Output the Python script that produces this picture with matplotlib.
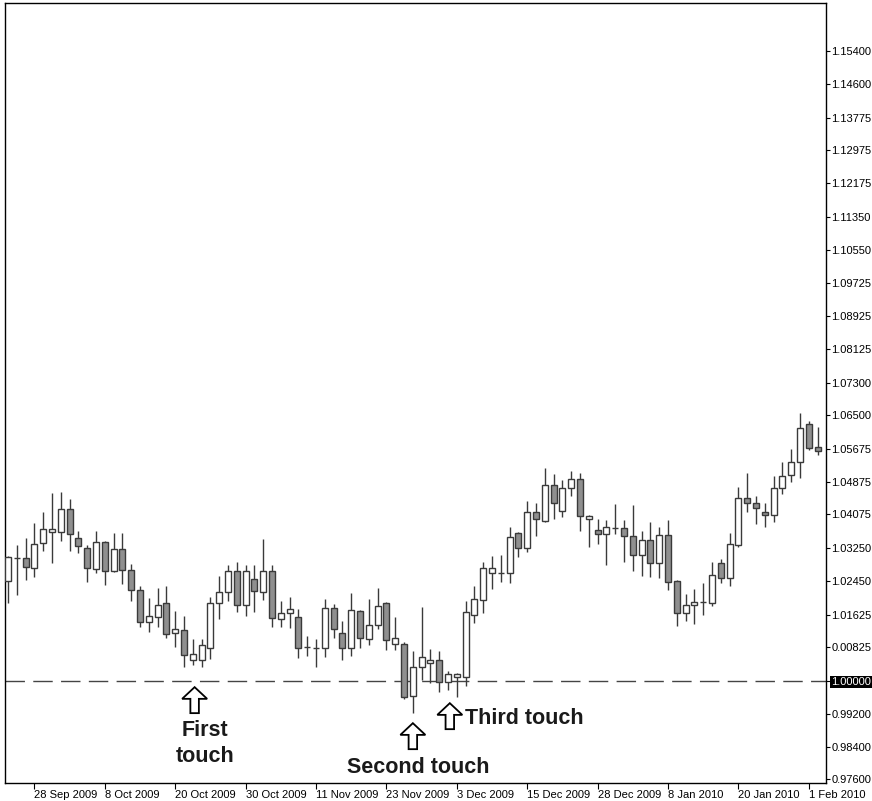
import matplotlib
matplotlib.use("Agg")
import matplotlib.pyplot as plt
import matplotlib.transforms as mtransforms
from matplotlib.patches import Polygon

plt.rcParams['font.family'] = ['Liberation Sans', 'DejaVu Sans']
plt.rcParams['lines.scale_dashes'] = False

# daily EUR/CHF-style candles
opens = [1.0244, 1.0301, 1.0301, 1.0276, 1.0337, 1.0364, 1.0364, 1.0421, 1.0350, 1.0325,
         1.0274, 1.0340, 1.0269, 1.0323, 1.0271, 1.0222, 1.0144, 1.0156, 1.0191, 1.0117,
         1.0125, 1.0051, 1.0051, 1.0081, 1.0191, 1.0218, 1.0269, 1.0186, 1.0249, 1.0218,
         1.0269, 1.0152, 1.0166, 1.0156, 1.0083, 1.0081, 1.0081, 1.0178, 1.0117, 1.0081,
         1.0171, 1.0103, 1.0137, 1.0191, 1.0090, 1.0090, 0.9963, 1.0034, 1.0044, 1.0051,
         0.9998, 1.0010, 1.0010, 1.0161, 1.0198, 1.0264, 1.0264, 1.0264, 1.0362, 1.0325,
         1.0413, 1.0391, 1.0479, 1.0416, 1.0472, 1.0494, 1.0396, 1.0369, 1.0359, 1.0374,
         1.0374, 1.0355, 1.0308, 1.0345, 1.0289, 1.0357, 1.0245, 1.0166, 1.0186, 1.0193,
         1.0191, 1.0289, 1.0252, 1.0333, 1.0447, 1.0435, 1.0413, 1.0406, 1.0472, 1.0504,
         1.0535, 1.0628, 1.0572]
highs = [1.0306, 1.0333, 1.0350, 1.0386, 1.0413, 1.0460, 1.0462, 1.0445, 1.0367, 1.0333,
         1.0367, 1.0342, 1.0362, 1.0362, 1.0286, 1.0232, 1.0203, 1.0227, 1.0232, 1.0171,
         1.0159, 1.0103, 1.0103, 1.0205, 1.0257, 1.0284, 1.0291, 1.0284, 1.0284, 1.0347,
         1.0284, 1.0196, 1.0205, 1.0176, 1.0110, 1.0103, 1.0200, 1.0188, 1.0147, 1.0215,
         1.0173, 1.0200, 1.0227, 1.0193, 1.0156, 1.0095, 1.0073, 1.0181, 1.0078, 1.0073,
         1.0024, 1.0020, 1.0196, 1.0232, 1.0291, 1.0306, 1.0308, 1.0377, 1.0364, 1.0440,
         1.0435, 1.0521, 1.0506, 1.0491, 1.0513, 1.0509, 1.0406, 1.0396, 1.0394, 1.0433,
         1.0394, 1.0430, 1.0367, 1.0389, 1.0377, 1.0394, 1.0247, 1.0213, 1.0225, 1.0240,
         1.0291, 1.0298, 1.0362, 1.0474, 1.0509, 1.0452, 1.0435, 1.0501, 1.0535, 1.0567,
         1.0655, 1.0636, 1.0621]
lows = [1.0191, 1.0210, 1.0247, 1.0254, 1.0318, 1.0289, 1.0342, 1.0318, 1.0313, 1.0242,
        1.0264, 1.0235, 1.0267, 1.0237, 1.0196, 1.0132, 1.0120, 1.0132, 1.0105, 1.0083,
        1.0034, 1.0039, 1.0034, 1.0054, 1.0152, 1.0196, 1.0169, 1.0159, 1.0169, 1.0198,
        1.0132, 1.0132, 1.0130, 1.0056, 1.0061, 1.0034, 1.0059, 1.0105, 1.0051, 1.0061,
        1.0081, 1.0088, 1.0127, 1.0076, 1.0076, 0.9956, 0.9922, 1.0002, 0.9995, 0.9973,
        0.9978, 0.9961, 0.9988, 1.0142, 1.0166, 1.0225, 1.0242, 1.0240, 1.0303, 1.0315,
        1.0355, 1.0389, 1.0396, 1.0401, 1.0452, 1.0367, 1.0328, 1.0335, 1.0284, 1.0359,
        1.0291, 1.0269, 1.0257, 1.0254, 1.0252, 1.0222, 1.0134, 1.0147, 1.0139, 1.0161,
        1.0183, 1.0240, 1.0232, 1.0328, 1.0413, 1.0384, 1.0377, 1.0389, 1.0457, 1.0487,
        1.0496, 1.0565, 1.0553]
closes = [1.0303, 1.0302, 1.0279, 1.0335, 1.0372, 1.0372, 1.0421, 1.0359, 1.0330, 1.0276,
          1.0340, 1.0269, 1.0323, 1.0271, 1.0222, 1.0144, 1.0159, 1.0186, 1.0115, 1.0127,
          1.0064, 1.0066, 1.0088, 1.0191, 1.0218, 1.0269, 1.0186, 1.0269, 1.0220, 1.0269,
          1.0154, 1.0166, 1.0176, 1.0081, 1.0084, 1.0082, 1.0178, 1.0127, 1.0081, 1.0174,
          1.0105, 1.0137, 1.0183, 1.0100, 1.0105, 0.9961, 1.0034, 1.0059, 1.0051, 0.9998,
          1.0017, 1.0017, 1.0169, 1.0200, 1.0276, 1.0276, 1.0265, 1.0352, 1.0325, 1.0413,
          1.0396, 1.0479, 1.0435, 1.0472, 1.0494, 1.0403, 1.0403, 1.0359, 1.0377, 1.0375,
          1.0355, 1.0308, 1.0345, 1.0289, 1.0357, 1.0242, 1.0166, 1.0186, 1.0193, 1.0194,
          1.0259, 1.0252, 1.0335, 1.0447, 1.0435, 1.0423, 1.0406, 1.0472, 1.0501, 1.0535,
          1.0619, 1.0570, 1.0562]

date_labels = ['28 Sep 2009', '8 Oct 2009', '20 Oct 2009', '30 Oct 2009', '11 Nov 2009',
               '23 Nov 2009', '3 Dec 2009', '15 Dec 2009', '28 Dec 2009', '8 Jan 2010',
               '20 Jan 2010', '1 Feb 2010']
date_ticks = list(range(3, 93, 8))

price_ticks = [1.15400, 1.14600, 1.13775, 1.12975, 1.12175, 1.11350, 1.10550, 1.09725,
               1.08925, 1.08125, 1.07300, 1.06500, 1.05675, 1.04875, 1.04075, 1.03250,
               1.02450, 1.01625, 1.00825, 1.00000, 0.99200, 0.98400, 0.97600]
price_labels = ['1.15400', '1.14600', '1.13775', '1.12975', '1.12175', '1.11350', '1.10550',
                '1.09725', '1.08925', '1.08125', '1.07300', '1.06500', '1.05675', '1.04875',
                '1.04075', '1.03250', '1.02450', '1.01625', '0.00825', '1.00000', '0.99200',
                '0.98400', '0.97600']

support = 1.0
touches = [(21, 'First\ntouch'), (46, 'Second touch'), (50, 'Third touch')]

W, H = 872, 801
fig = plt.figure(figsize=(W / 100, H / 100), dpi=100)
ax = fig.add_axes([5 / W, 18 / H, 821 / W, 780 / H])

edge = '#3a3a3a'
x = list(range(len(opens)))
ax.vlines(x, lows, highs, color=edge, linewidth=1.0, zorder=2)
bottoms = [min(o, c) for o, c in zip(opens, closes)]
heights = [max(abs(c - o), 0.00002) for o, c in zip(opens, closes)]
fills = ['white' if c >= o else '#8f8f8f' for o, c in zip(opens, closes)]
ax.bar(x, heights, bottom=bottoms, width=0.68, color=fills, edgecolor=edge,
       linewidth=1.0, zorder=3)

ax.axhline(support, color='#444444', linewidth=1.0, dashes=(14, 6), zorder=1)

ax.set_xlim(-0.35, 92.95)
ax.set_ylim(0.9751, 1.1658)

ax.set_xticks(date_ticks)
ax.set_xticklabels(date_labels, ha='left')
ax.yaxis.tick_right()
ax.set_yticks(price_ticks)
ax.set_yticklabels(price_labels)
ax.tick_params(axis='x', direction='out', length=4, pad=1, labelsize=8, width=0.8)
ax.tick_params(axis='y', direction='out', length=3, pad=1, labelsize=8, width=0.8)
for lab in ax.get_yticklabels():
    if lab.get_text() == '1.00000':
        lab.set_color('white')
        lab.set_bbox(dict(facecolor='black', edgecolor='none', pad=1))
for sp in ax.spines.values():
    sp.set_linewidth(1.0)

# hollow up-arrows under the touches
arrow_shape = [(-0.17, 0), (0.17, 0), (0.17, 0.55), (0.5, 0.55), (0, 1), (-0.5, 0.55),
               (-0.17, 0.55)]
arrow_pos = {21: (21.2, 0.99218), 46: (46.0, 0.98337), 50: (50.2, 0.98826)}
for idx, _ in touches:
    ax_x, ax_y = arrow_pos[idx]
    tr = mtransforms.Affine2D().scale(25, 26) + mtransforms.ScaledTranslation(ax_x, ax_y, ax.transData)
    ax.add_patch(Polygon(arrow_shape, closed=True, facecolor='white', edgecolor='black',
                         linewidth=1.3, transform=tr, zorder=5))

ax.text(22.4, 0.98484, touches[0][1], ha='center', va='center', fontsize=15.5,
        fontweight='bold', linespacing=1.3, color='#1a1a1a')
ax.text(46.6, 0.97897, touches[1][1], ha='center', va='center', fontsize=15.5,
        fontweight='bold', color='#1a1a1a')
ax.text(51.9, 0.99095, touches[2][1], ha='left', va='center', fontsize=15.5,
        fontweight='bold', color='#1a1a1a')

fig.savefig('out.png', dpi=100)
plt.close(fig)
